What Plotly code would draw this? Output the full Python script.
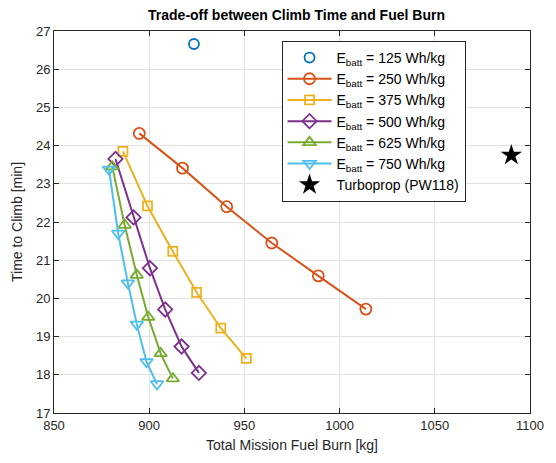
import plotly.graph_objects as go

# Battery energy density cases (Wh/kg) and their trade-off curves
fuel_125 = [923.5]
time_125 = [26.66]

fuel_250 = [894.8, 917.5, 940.7, 964.4, 988.8, 1013.8]
time_250 = [24.32, 23.41, 22.40, 21.45, 20.59, 19.72]

fuel_375 = [886.2, 899.1, 912.4, 924.9, 937.6, 951.0]
time_375 = [23.85, 22.42, 21.23, 20.16, 19.22, 18.43]

fuel_500 = [882.3, 891.8, 900.4, 908.4, 917.0, 926.1]
time_500 = [23.65, 22.12, 20.79, 19.71, 18.74, 18.05]

fuel_625 = [880.6, 887.1, 893.5, 899.5, 906.0, 912.4]
time_625 = [23.45, 21.92, 20.61, 19.51, 18.56, 17.90]

fuel_750 = [878.9, 883.7, 888.8, 893.5, 898.6, 904.1]
time_750 = [23.38, 21.70, 20.40, 19.32, 18.34, 17.76]

fuel_turboprop = [1090.2]
time_turboprop = [23.75]

x_ticks = [850, 900, 950, 1000, 1050, 1100]
y_ticks = [17, 18, 19, 20, 21, 22, 23, 24, 25, 26, 27]

FONT = "Liberation Sans, Arial, sans-serif"

series = [
    ("E<sub>batt</sub> = 125 Wh/kg", fuel_125, time_125, "#0072BD", "circle-open", "markers", 10),
    ("E<sub>batt</sub> = 250 Wh/kg", fuel_250, time_250, "#D95319", "circle-open", "lines+markers", 11),
    ("E<sub>batt</sub> = 375 Wh/kg", fuel_375, time_375, "#EDB120", "square-open", "lines+markers", 9),
    ("E<sub>batt</sub> = 500 Wh/kg", fuel_500, time_500, "#7E2F8E", "diamond-open", "lines+markers", 11),
    ("E<sub>batt</sub> = 625 Wh/kg", fuel_625, time_625, "#77AC30", "triangle-up-open", "lines+markers", 11),
    ("E<sub>batt</sub> = 750 Wh/kg", fuel_750, time_750, "#4DBEEE", "triangle-down-open", "lines+markers", 11),
]

fig = go.Figure()
for name, xs, ys, color, symbol, mode, size in series:
    fig.add_trace(go.Scatter(
        x=xs, y=ys, mode=mode, name=name,
        line=dict(color=color, width=2),
        marker=dict(symbol=symbol, size=size, color=color,
                    line=dict(color=color, width=1.8)),
    ))

fig.add_trace(go.Scatter(
    x=fuel_turboprop, y=time_turboprop, mode="markers",
    name="Turboprop (PW118)",
    marker=dict(symbol="star", size=16, color="black", line=dict(width=0)),
))

axis_common = dict(
    showline=True, linecolor="#262626", linewidth=1, mirror="ticks",
    ticks="inside", ticklen=5, tickcolor="#262626",
    showgrid=True, gridcolor="#e3e3e3", gridwidth=1,
    zeroline=False,
    tickfont=dict(family=FONT, size=13, color="#262626"),
    title_font=dict(family=FONT, size=14, color="#262626"),
)

fig.update_xaxes(range=[850, 1100], tickvals=x_ticks,
                 title_text="Total Mission Fuel Burn [kg]", title_standoff=8,
                 **axis_common)
fig.update_yaxes(range=[17, 27], tickvals=y_ticks,
                 title_text="Time to Climb [min]", title_standoff=10,
                 **axis_common)

fig.update_layout(
    width=556, height=463,
    margin=dict(l=54, r=17, t=31, b=50),
    paper_bgcolor="white", plot_bgcolor="white",
    font=dict(family=FONT, color="#262626"),
    title=dict(text="<b>Trade-off between Climb Time and Fuel Burn</b>",
               x=(54 + 539) / 2 / 556, xanchor="center",
               y=1 - 15 / 463, yanchor="middle",
               font=dict(size=14, color="#000000")),
    legend=dict(
        x=0.478, y=0.974, xanchor="left", yanchor="top",
        bgcolor="white", bordercolor="#262626", borderwidth=1,
        font=dict(family=FONT, size=14, color="#000000"),
        tracegroupgap=0, itemwidth=44,
    ),
    showlegend=True,
)

fig.write_html("out.html")
